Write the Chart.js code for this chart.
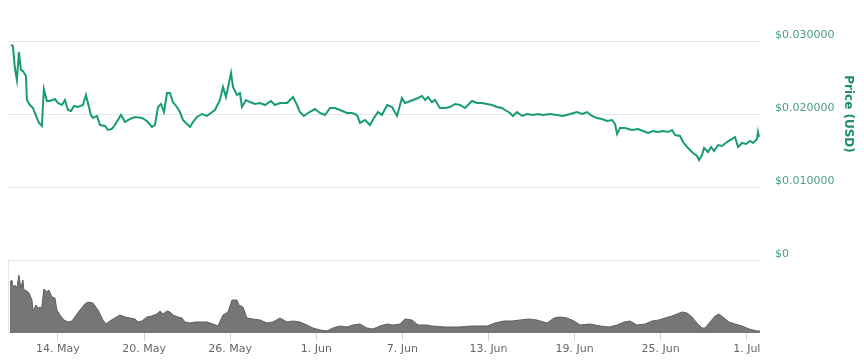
<!DOCTYPE html>
<html>
<head>
<meta charset="utf-8">
<script src="https://cdn.jsdelivr.net/npm/chart.js@4"></script>
<style>
  body { margin: 0; background: #fff; }
  #wrap { width: 864px; height: 361px; position: relative; }
</style>
</head>
<body>
<div id="wrap"><canvas id="chart"></canvas></div>
<script>
// days counted from 14 May
var tickDays = [0, 6, 12, 18, 24, 30, 36, 42, 48];
var tickLabels = ["14. May", "20. May", "26. May", "1. Jun", "7. Jun", "13. Jun", "19. Jun", "25. Jun", "1. Jul"];
var priceTicks = [0, 0.01, 0.02, 0.03];

var priceDays = [
  -3.28, -3.14, -3.00, -2.86, -2.72, -2.58, -2.44, -2.23, -2.16, -1.95,
  -1.74, -1.46, -1.32, -1.12, -0.98, -0.77, -0.56, -0.21, 0, 0.28,
  0.49, 0.70, 0.91, 1.12, 1.39, 1.74, 1.95, 2.09, 2.30, 2.44,
  2.72, 2.93, 3.28, 3.48, 3.76, 3.97, 4.39, 4.60, 4.67, 5.02,
  5.37, 5.85, 6.20, 6.55, 6.76, 6.97, 7.18, 7.39, 7.60, 7.81,
  8.01, 8.29, 8.50, 8.71, 8.99, 9.20, 9.41, 9.69, 10.04, 10.38,
  10.66, 10.94, 11.29, 11.50, 11.71, 12.06, 12.20, 12.47, 12.68, 12.82,
  13.10, 13.38, 13.73, 14.08, 14.43, 14.84, 15.12, 15.47, 15.96, 16.38,
  16.66, 16.86, 17.14, 17.42, 17.91, 18.26, 18.61, 18.96, 19.30, 19.65,
  20.14, 20.49, 20.84, 21.05, 21.40, 21.74, 22.02, 22.30, 22.58, 22.93,
  23.28, 23.63, 23.97, 24.18, 24.39, 24.74, 25.09, 25.37, 25.58, 25.79,
  26.06, 26.27, 26.62, 26.97, 27.32, 27.67, 28.02, 28.36, 28.57, 28.85,
  29.20, 29.55, 29.90, 30.25, 30.59, 30.94, 31.15, 31.50, 31.71, 31.99,
  32.34, 32.68, 33.10, 33.45, 33.80, 34.29, 34.78, 35.19, 35.68, 36.17,
  36.52, 36.87, 37.21, 37.56, 37.91, 38.26, 38.61, 38.82, 38.96, 39.17,
  39.51, 40.00, 40.42, 40.77, 41.12, 41.47, 41.81, 42.16, 42.51, 42.79,
  43.00, 43.35, 43.56, 43.84, 44.04, 44.25, 44.53, 44.67, 44.88, 45.02,
  45.30, 45.51, 45.72, 46.00, 46.27, 46.62, 46.97, 47.18, 47.39, 47.67,
  47.95, 48.23, 48.44, 48.71, 48.78, 48.85
];
var priceValues = [
  0.02945, 0.02932, 0.02630, 0.02466, 0.02849, 0.02603, 0.02589, 0.02521, 0.02192, 0.02123,
  0.02082, 0.01945, 0.01877, 0.01836, 0.02342, 0.02178, 0.02178, 0.02205, 0.02151, 0.02123,
  0.02192, 0.02055, 0.02041, 0.02110, 0.02096, 0.02123, 0.02260, 0.02151, 0.01986, 0.01945,
  0.01973, 0.01849, 0.01836, 0.01781, 0.01795, 0.01849, 0.01986, 0.01918, 0.01890, 0.01932,
  0.01959, 0.01945, 0.01904, 0.01822, 0.01849, 0.02096, 0.02137, 0.02027, 0.02288, 0.02288,
  0.02164, 0.02096, 0.02027, 0.01918, 0.01863, 0.01822, 0.01890, 0.01959, 0.02000, 0.01973,
  0.02014, 0.02055, 0.02192, 0.02370, 0.02233, 0.02562, 0.02370, 0.02260, 0.02288, 0.02096,
  0.02192, 0.02164, 0.02137, 0.02151, 0.02123, 0.02178, 0.02123, 0.02151, 0.02151, 0.02233,
  0.02123, 0.02027, 0.01973, 0.02014, 0.02068, 0.02014, 0.01986, 0.02082, 0.02082, 0.02055,
  0.02014, 0.02014, 0.01986, 0.01877, 0.01918, 0.01849, 0.01945, 0.02027, 0.01986, 0.02123,
  0.02096, 0.01973, 0.02219, 0.02151, 0.02164, 0.02192, 0.02219, 0.02247, 0.02192, 0.02233,
  0.02164, 0.02192, 0.02082, 0.02082, 0.02096, 0.02137, 0.02123, 0.02082, 0.02123, 0.02178,
  0.02151, 0.02151, 0.02137, 0.02123, 0.02096, 0.02082, 0.02055, 0.02014, 0.01973, 0.02027,
  0.01973, 0.02000, 0.01986, 0.02000, 0.01986, 0.02000, 0.01986, 0.01973, 0.02000, 0.02027,
  0.02000, 0.02027, 0.01973, 0.01945, 0.01932, 0.01904, 0.01918, 0.01863, 0.01726, 0.01808,
  0.01808, 0.01781, 0.01795, 0.01767, 0.01740, 0.01767, 0.01753, 0.01767, 0.01753, 0.01781,
  0.01712, 0.01699, 0.01616, 0.01548, 0.01507, 0.01466, 0.01425, 0.01370, 0.01438, 0.01534,
  0.01479, 0.01548, 0.01493, 0.01575, 0.01562, 0.01616, 0.01658, 0.01685, 0.01548, 0.01603,
  0.01589, 0.01630, 0.01603, 0.01658, 0.01753, 0.01685
];

var volumeDays = [
  -3.35, -3.21, -3.14, -3.00, -2.86, -2.72, -2.58, -2.44, -2.37, -2.16,
  -2.02, -1.81, -1.74, -1.53, -1.39, -1.12, -0.98, -0.77, -0.63, -0.42,
  -0.21, -0.07, 0.14, 0.42, 0.70, 0.98, 1.18, 1.53, 1.88, 2.09,
  2.44, 2.79, 3.14, 3.35, 3.62, 3.97, 4.32, 4.67, 5.02, 5.37,
  5.58, 5.85, 6.20, 6.55, 6.90, 7.11, 7.32, 7.60, 7.81, 8.01,
  8.36, 8.64, 8.85, 9.20, 9.55, 9.90, 10.38, 10.80, 11.15, 11.50,
  11.85, 12.13, 12.47, 12.61, 12.89, 13.17, 13.59, 14.08, 14.57, 14.98,
  15.47, 15.96, 16.38, 16.86, 17.35, 17.77, 18.26, 18.75, 19.16, 19.65,
  20.14, 20.56, 21.05, 21.53, 21.95, 22.44, 22.93, 23.35, 23.83, 24.18,
  24.67, 25.09, 25.72, 26.06, 26.97, 27.95, 28.85, 29.90, 30.45, 31.08,
  31.64, 32.20, 32.82, 33.38, 34.08, 34.57, 34.98, 35.47, 35.96, 36.38,
  37.07, 37.77, 38.40, 38.96, 39.44, 39.86, 40.35, 40.91, 41.40, 41.88,
  42.30, 42.79, 43.14, 43.49, 43.84, 44.18, 44.53, 44.88, 45.09, 45.44,
  45.79, 46.07, 46.41, 46.76, 47.18, 47.67, 48.16, 48.71, 48.92
];
var volumeValues = [
  51, 53, 46, 48, 45, 58, 45, 53, 43, 42,
  40, 33, 22, 28, 25, 26, 44, 41, 43, 36,
  35, 23, 18, 13, 11, 12, 16, 23, 29, 31,
  30, 23, 13, 9, 12, 15, 18, 16, 15, 14,
  11, 12, 16, 17, 19, 22, 19, 22, 21, 18,
  16, 15, 11, 10, 11, 11, 11, 9, 7, 18,
  21, 33, 33, 28, 26, 15, 14, 13, 10, 11,
  15, 11, 12, 11, 8, 5, 3, 2, 5, 7,
  6, 8, 9, 5, 4, 7, 9, 8, 9, 14,
  13, 8, 8, 7, 6, 6, 7, 7, 10, 12,
  12, 13, 14, 13, 10, 15, 16, 15, 12, 8,
  9, 7, 6, 8, 11, 12, 8, 9, 12, 13,
  15, 17, 19, 21, 20, 16, 10, 5, 5, 11,
  17, 19, 15, 11, 9, 7, 4, 2, 2
];

var green = "#179c77";

// title on the right and the little frame line at the left of the volume pane
var extras = {
  id: "extras",
  beforeDatasetsDraw: function (chart) {
    var ctx = chart.ctx;
    var area = chart.chartArea;
    var y0 = chart.scales.price.getPixelForValue(0);
    ctx.save();
    ctx.strokeStyle = "#e6e6e6";
    ctx.lineWidth = 1;
    ctx.beginPath();
    ctx.moveTo(area.left + 0.5, y0);
    ctx.lineTo(area.left + 0.5, area.bottom);
    ctx.stroke();
    ctx.restore();
  },
  afterDraw: function (chart) {
    var ctx = chart.ctx;
    var y = chart.scales.price.getPixelForValue(0.02);
    ctx.save();
    ctx.translate(848, y);
    ctx.rotate(Math.PI / 2);
    ctx.font = "bold 12px 'DejaVu Sans'";
    ctx.fillStyle = "#1f8f6c";
    ctx.textAlign = "center";
    ctx.textBaseline = "middle";
    ctx.fillText("Price (USD)", 0, 0);
    ctx.restore();
  },
};

var ctx = document.getElementById("chart");
new Chart(ctx, {
  type: "line",
  data: {
    datasets: [
      {
        label: "Price",
        data: priceDays.map(function (d, i) { return { x: d, y: priceValues[i] }; }),
        yAxisID: "price",
        borderColor: green,
        borderWidth: 2,
        pointRadius: 0,
        tension: 0,
        fill: false,
      },
      {
        label: "Volume",
        data: volumeDays.map(function (d, i) { return { x: d, y: volumeValues[i] }; }),
        yAxisID: "volume",
        borderColor: "#5f5f5f",
        backgroundColor: "#767676",
        borderWidth: 1,
        pointRadius: 0,
        tension: 0,
        fill: "origin",
      },
    ],
  },
  options: {
    responsive: true,
    maintainAspectRatio: false,
    animation: false,
    layout: { padding: { top: 41, left: 8, right: 0, bottom: 0 } },
    plugins: {
      legend: { display: false },
      tooltip: { enabled: false },
    },
    scales: {
      x: {
        type: "linear",
        min: -3.48,
        max: 48.92,
        afterBuildTicks: function (scale) {
          scale.ticks = tickDays.map(function (v) { return { value: v }; });
        },
        afterFit: function (scale) { scale.height = 28; },
        ticks: {
          autoSkip: false,
          maxRotation: 0,
          padding: 2,
          color: "#666666",
          font: { family: "'DejaVu Sans'", size: 11 },
          callback: function (v) { return tickLabels[tickDays.indexOf(v)]; },
        },
        grid: { drawOnChartArea: false, tickLength: 8, color: "#ccd6eb" },
        border: { display: false },
      },
      price: {
        type: "linear",
        position: "right",
        min: -0.01,
        max: 0.03,
        afterBuildTicks: function (scale) {
          scale.ticks = priceTicks.map(function (v) { return { value: v }; });
        },
        afterFit: function (scale) { scale.width = 104; },
        ticks: {
          padding: 15,
          labelOffset: -6,
          color: "#4a9e83",
          font: { family: "'DejaVu Sans'", size: 11 },
          callback: function (v) { return v === 0 ? "$0" : "$" + v.toFixed(6); },
        },
        grid: { color: "#e6e6e6", drawTicks: false },
        border: { display: false },
      },
      volume: {
        type: "linear",
        position: "left",
        display: false,
        min: 0,
        max: 292,
      },
    },
  },
  plugins: [extras],
});
</script>
</body>
</html>
